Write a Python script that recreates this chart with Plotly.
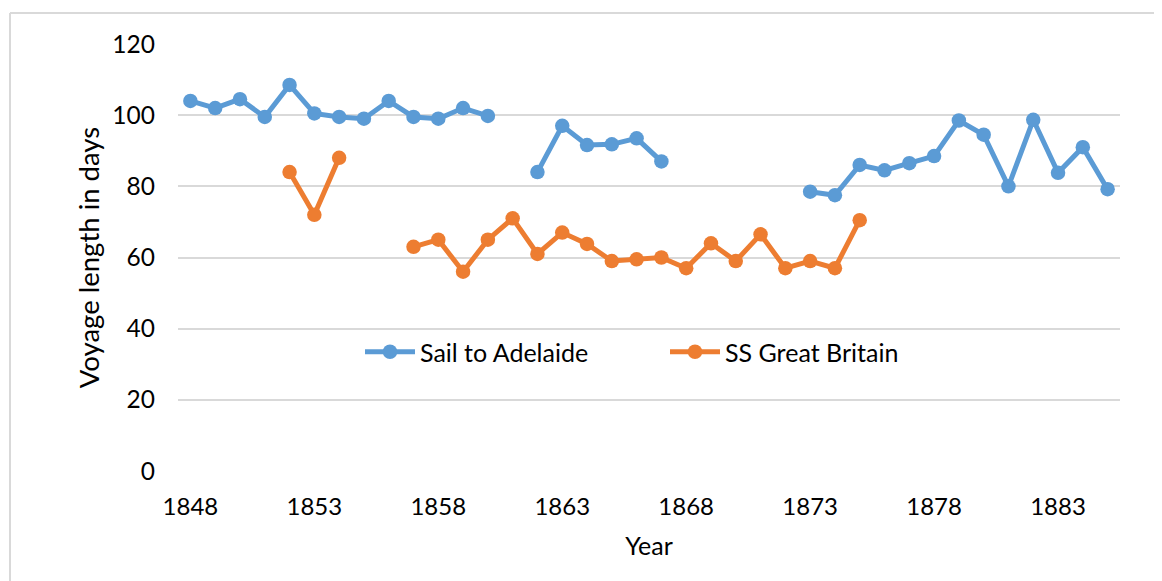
import plotly.graph_objects as go

years = list(range(1848, 1886))

sail_adelaide = [104, 102, 104.5, 99.5, 108.5, 100.5, 99.5, 99, 104, 99.5, 99, 102, 99.8,
                 None, 84, 97, 91.6, 91.8, 93.5, 87,
                 None, None, None, None, None,
                 78.5, 77.5, 86, 84.5, 86.5, 88.5, 98.5, 94.5, 80, 98.7, 83.8, 91, 79.2]

ss_great_britain = [None, None, None, None, 84, 72, 88, None, None, 63, 65, 56, 65, 71,
                    61, 67, 63.8, 59, 59.5, 60, 57, 64, 59, 66.5, 57, 59, 57, 70.5,
                    None, None, None, None, None, None, None, None, None, None]

tick_years = [1848, 1853, 1858, 1863, 1868, 1873, 1878, 1883]

FONT = "Lato"
# page offset of 8px (body margin); plot area in page coords: x 178..1120, y 44..471
PL, PR, PT, PB = 178, 1120, 44, 471
W, H = 1154, 573

fig = go.Figure()
fig.add_trace(go.Scatter(x=years, y=sail_adelaide, name="Sail to Adelaide",
                         mode="lines+markers", connectgaps=False,
                         line=dict(color="#5B9BD5", width=5),
                         marker=dict(color="#5B9BD5", size=14.5)))
fig.add_trace(go.Scatter(x=years, y=ss_great_britain, name="SS Great Britain",
                         mode="lines+markers", connectgaps=False,
                         line=dict(color="#ED7D31", width=5),
                         marker=dict(color="#ED7D31", size=14.5)))

def px_x(p):
    return (p - PL) / (PR - PL)

def px_y(p):
    return (PB - p) / (PB - PT)

fig.update_layout(
    width=W, height=H,
    margin=dict(l=PL - 8, r=W - (PR - 8), t=PT - 8, b=H - (PB - 8)),
    paper_bgcolor="white", plot_bgcolor="white",
    font=dict(family=FONT, size=24, color="#000000"),
    showlegend=True,
    legend=dict(orientation="h", x=px_x(360), y=px_y(352),
                xanchor="left", yanchor="middle",
                itemwidth=50, entrywidth=240, entrywidthmode="pixels",
                bgcolor="rgba(0,0,0,0)", font=dict(size=25, family=FONT)),
    xaxis=dict(range=[1847.5, 1885.5], tickmode="array", tickvals=tick_years,
               ticktext=[str(t) for t in tick_years], showgrid=False,
               zeroline=False, showline=False, ticks="", ticklabelstandoff=19,
               tickfont=dict(size=24),
               title=dict(text="Year", standoff=18, font=dict(size=25))),
    yaxis=dict(range=[0, 120], dtick=20, tick0=0, showgrid=True,
               gridcolor="#D9D9D9", gridwidth=1.5, zeroline=False, showline=False,
               ticks="", ticklabelstandoff=22, tickfont=dict(size=24.5),
               title=dict(text="Voyage length in days", standoff=4, font=dict(size=27.5))),
    shapes=[
        dict(type="line", xref="paper", yref="paper",
             x0=px_x(10), x1=px_x(10), y0=px_y(600), y1=px_y(13),
             line=dict(color="#D9D9D9", width=2)),
        dict(type="line", xref="paper", yref="paper",
             x0=px_x(10), x1=px_x(1200), y0=px_y(13), y1=px_y(13),
             line=dict(color="#D9D9D9", width=2)),
    ],
)

fig.write_html("out.html")
